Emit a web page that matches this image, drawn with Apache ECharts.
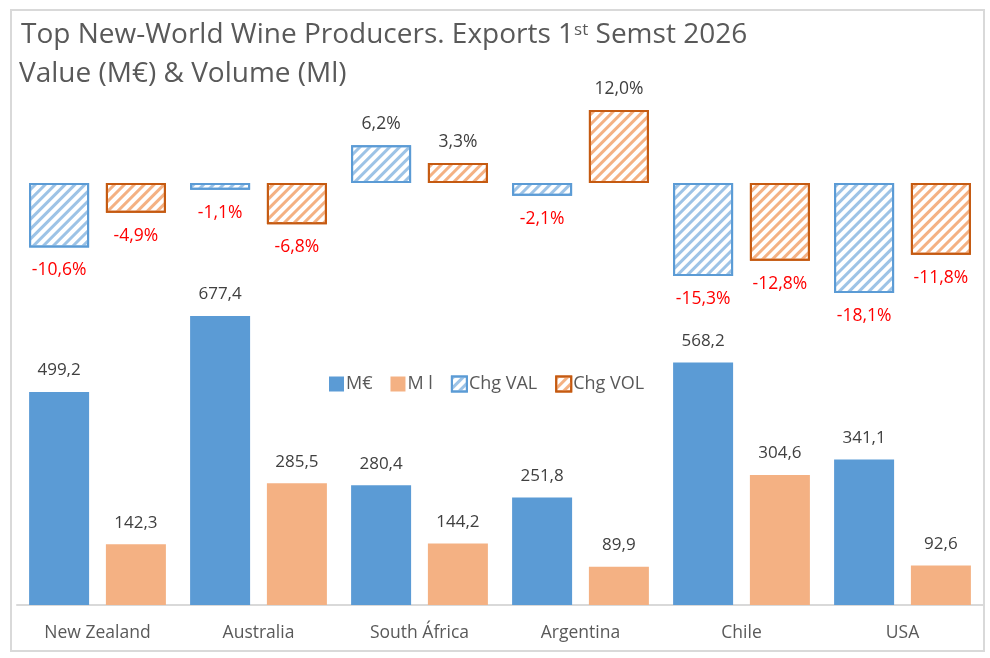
<!DOCTYPE html>
<html>
<head>
<meta charset="utf-8">
<script src="https://cdn.jsdelivr.net/npm/echarts@6/dist/echarts.min.js"></script>
<style>
html,body{margin:0;padding:0;background:#fff;}
#chart{width:990px;height:658px;}
</style>
</head>
<body>
<div id="chart"></div>
<script>
const categories = ['New Zealand', 'Australia', 'South África', 'Argentina', 'Chile', 'USA'];
const valueMEur = [499.2, 677.4, 280.4, 251.8, 568.2, 341.1];
const volumeMl = [142.3, 285.5, 144.2, 89.9, 304.6, 92.6];
const chgVal = [-10.6, -1.1, 6.2, -2.1, -15.3, -18.1];
const chgVol = [-4.9, -6.8, 3.3, 12.0, -12.8, -11.8];
const seriesNames = ['M€', 'M l', 'Chg VAL', 'Chg VOL'];
const titleLine1a = 'Top New-World Wine Producers. Exports 1';
const titleSup = 'st';
const titleLine1b = ' Semst 2026';
const titleLine2 = 'Value (M€) & Volume (Ml)';

const FONT = '"Open Sans", sans-serif';
const TXT = '#595959';

function fmt1(v){ return v.toFixed(1).replace('.', ','); }
function pctData(arr){
  return arr.map(v => ({
    value: v,
    label: {
      position: v >= 0 ? 'top' : 'bottom',
      color: v >= 0 ? '#404040' : '#FF0000',
      distance: v >= 0 ? 12 : 14
    }
  }));
}

// measure title text widths for superscript placement
const cv = document.createElement('canvas').getContext('2d');
const titleSize = 28, supSize = 17;
cv.font = titleSize + 'px "Open Sans"';
const w1a = cv.measureText(titleLine1a).width;
cv.font = supSize + 'px "Open Sans"';
const wSup = cv.measureText(titleSup).width;

const chart = echarts.init(document.getElementById('chart'), null, {renderer: 'canvas'});

const stripeDecal = (c) => ({
  color: c,
  symbol: 'rect',
  dashArrayX: [1, 0],
  dashArrayY: [3, 3.4],
  rotation: -Math.PI / 4
});

chart.setOption({
  animation: false,
  backgroundColor: '#fff',
  textStyle: {fontFamily: FONT},
  graphic: [
    {type: 'rect', shape: {x: 11, y: 10, width: 973, height: 641}, style: {fill: 'none', stroke: '#d9d9d9', lineWidth: 2}, silent: true},
    {type: 'text', left: 21, top: 21, style: {text: titleLine1a, font: titleSize + 'px "Open Sans"', fill: TXT}},
    {type: 'text', left: 21 + w1a, top: 22, style: {text: titleSup, font: supSize + 'px "Open Sans"', fill: TXT}},
    {type: 'text', left: 21 + w1a + wSup, top: 21, style: {text: titleLine1b, font: titleSize + 'px "Open Sans"', fill: TXT}},
    {type: 'text', left: 19, top: 60, style: {text: titleLine2, font: titleSize + 'px "Open Sans"', fill: TXT}}
  ],
  legend: {
    data: seriesNames,
    left: 324,
    top: 370,
    icon: 'rect',
    itemWidth: 15,
    itemHeight: 15,
    itemGap: 18,
    textStyle: {color: TXT, fontSize: 18, fontFamily: FONT, padding: [0, 0, 0, -3]}
  },
  grid: [
    {left: 17, right: 7, top: 91.8, height: 212.8},
    {left: 17, right: 7, top: 263.7, height: 341.3}
  ],
  xAxis: [
    {type: 'category', gridIndex: 0, data: categories, show: false},
    {type: 'category', gridIndex: 1, data: categories,
      axisLine: {lineStyle: {color: '#d9d9d9', width: 2}},
      axisTick: {show: false},
      axisLabel: {color: TXT, fontSize: 17.5, margin: 19, fontFamily: FONT}}
  ],
  yAxis: [
    {type: 'value', gridIndex: 0, min: -20, max: 15, show: false, splitLine: {show: false}},
    {type: 'value', gridIndex: 1, min: 0, max: 800, show: false, splitLine: {show: false}}
  ],
  series: [
    {name: 'M€', type: 'bar', xAxisIndex: 1, yAxisIndex: 1, data: valueMEur,
      barWidth: 60, barGap: '28%',
      itemStyle: {color: '#5B9BD5'},
      label: {show: true, position: 'top', distance: 13, color: '#404040', fontSize: 17, fontFamily: FONT, formatter: p => fmt1(p.value)}},
    {name: 'M l', type: 'bar', xAxisIndex: 1, yAxisIndex: 1, data: volumeMl,
      barWidth: 60, barGap: '28%',
      itemStyle: {color: '#F4B183'},
      label: {show: true, position: 'top', distance: 13, color: '#404040', fontSize: 17, fontFamily: FONT, formatter: p => fmt1(p.value)}},
    {name: 'Chg VAL', type: 'bar', xAxisIndex: 0, yAxisIndex: 0, data: pctData(chgVal),
      barWidth: 60, barGap: '28%',
      itemStyle: {color: '#ffffff', borderColor: '#5B9BD5', borderWidth: 2, decal: stripeDecal('#9DC3E6')},
      label: {show: true, fontSize: 17.5, fontFamily: FONT, formatter: p => fmt1(p.value) + '%'}},
    {name: 'Chg VOL', type: 'bar', xAxisIndex: 0, yAxisIndex: 0, data: pctData(chgVol),
      barWidth: 60, barGap: '28%',
      itemStyle: {color: '#ffffff', borderColor: '#C55A11', borderWidth: 2, decal: stripeDecal('#F4B183')},
      label: {show: true, fontSize: 17.5, fontFamily: FONT, formatter: p => fmt1(p.value) + '%'}}
  ]
});
</script>
</body>
</html>
